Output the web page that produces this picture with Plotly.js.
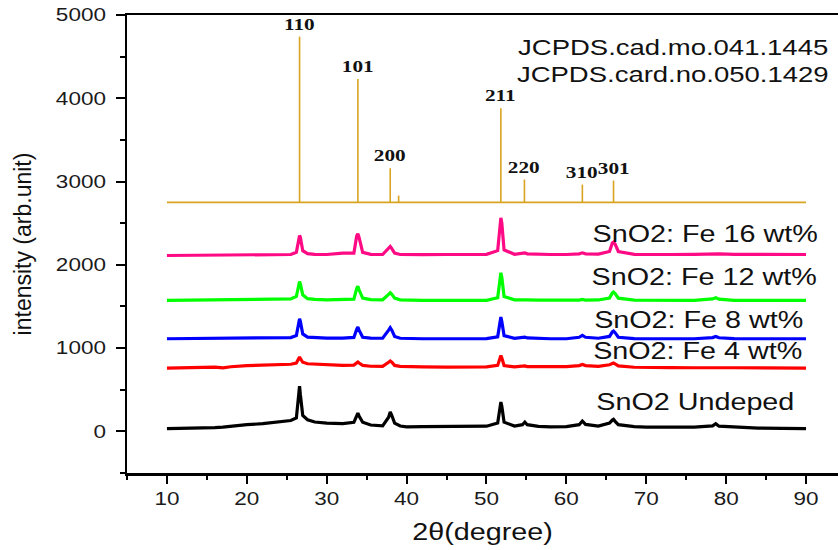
<!DOCTYPE html>
<html>
<head>
<meta charset="utf-8">
<script src="https://cdn.plot.ly/plotly-3.0.1.min.js"></script>
<style>
  html, body { margin: 0; padding: 0; background: #fff; }
  #chart { width: 838px; height: 550px; }
  /* wide lettering for horizontal texts */
  #chart .annotation-text, #chart .xtitle {
    transform-box: fill-box; transform-origin: center; scale: 1.25 1;
  }
  #chart g.xtick { transform-box: fill-box; transform-origin: center; scale: 1.25 1; }
  #chart g.ytick { transform-box: fill-box; transform-origin: right center; scale: 1.25 1; }
</style>
</head>
<body>
<div id="chart"></div>
<script>
// 2θ sampling grid shared by all measured patterns
const twoTheta = [10, 12, 14, 16, 17, 18, 20, 22, 24, 25.5,
  26.2, 26.5, 26.6, 26.7, 27.0, 27.6, 28.5, 30, 32, 33.4,
  33.75, 33.9, 34.05, 34.5, 35.5, 37.0, 37.75, 37.95, 38.15, 38.5,
  39.2, 40, 42, 45, 48, 50, 51.4, 51.7, 51.8, 51.92,
  52.2, 53.5, 54.5, 54.8, 55.1, 56.5, 58, 60, 61.6, 62.0,
  62.4, 64.0, 65.4, 65.75, 65.9, 66.1, 66.5, 68.5, 70, 73,
  76, 78.3, 78.7, 79.1, 81, 84, 87, 90];

// Intensities (stacked, arb. units)
const undoped = [32, 34, 38, 44, 50, 62, 80, 92, 112, 130,
  160, 430, 544, 440, 190, 140, 112, 100, 94, 108,
  190, 220, 185, 110, 76, 66, 170, 232, 190, 100,
  64, 54, 58, 60, 58, 62, 100, 320, 352, 300,
  110, 64, 80, 112, 80, 60, 54, 58, 80, 124,
  84, 64, 100, 135, 144, 120, 80, 58, 52, 52,
  50, 66, 92, 62, 52, 40, 36, 34];

const fe4 = [760, 764, 768, 772, 762, 776, 790, 796, 802, 806,
  820, 880, 892, 875, 830, 812, 806, 796, 792, 796,
  824, 832, 820, 792, 782, 780, 830, 844, 830, 792,
  780, 776, 774, 772, 772, 774, 792, 900, 912, 880,
  790, 774, 780, 786, 778, 776, 776, 778, 790, 804,
  790, 780, 800, 816, 820, 810, 786, 770, 766, 766,
  764, 766, 772, 764, 764, 762, 762, 760];

const fe8 = [1112, 1114, 1116, 1116, 1118, 1118, 1120, 1122, 1124, 1126,
  1150, 1330, 1352, 1320, 1170, 1132, 1124, 1120, 1120, 1128,
  1225, 1252, 1215, 1130, 1120, 1118, 1215, 1244, 1215, 1140,
  1118, 1114, 1112, 1112, 1112, 1114, 1135, 1350, 1372, 1320,
  1150, 1118, 1124, 1132, 1122, 1114, 1112, 1112, 1130, 1152,
  1130, 1118, 1140, 1195, 1204, 1185, 1130, 1114, 1112, 1112,
  1112, 1126, 1140, 1124, 1114, 1112, 1112, 1112];

const fe12 = [1572, 1574, 1576, 1576, 1578, 1578, 1580, 1582, 1586, 1590,
  1620, 1780, 1800, 1770, 1640, 1594, 1584, 1580, 1580, 1588,
  1715, 1744, 1700, 1600, 1582, 1580, 1645, 1664, 1645, 1600,
  1580, 1576, 1574, 1572, 1572, 1574, 1605, 1880, 1904, 1850,
  1620, 1580, 1582, 1588, 1580, 1576, 1574, 1572, 1576, 1584,
  1576, 1578, 1600, 1662, 1672, 1655, 1600, 1576, 1574, 1572,
  1574, 1590, 1604, 1588, 1574, 1572, 1572, 1572];

const fe16 = [2112, 2114, 2114, 2116, 2116, 2116, 2118, 2120, 2122, 2124,
  2150, 2335, 2352, 2330, 2170, 2134, 2126, 2124, 2140, 2140,
  2345, 2372, 2330, 2150, 2126, 2124, 2200, 2220, 2195, 2140,
  2124, 2122, 2122, 2124, 2124, 2126, 2170, 2540, 2564, 2500,
  2180, 2126, 2134, 2144, 2132, 2124, 2124, 2124, 2132, 2144,
  2132, 2128, 2160, 2262, 2272, 2250, 2160, 2126, 2124, 2124,
  2126, 2134, 2140, 2132, 2126, 2124, 2124, 2124];

const sampleLabels = ['SnO2 Undeped', 'SnO2: Fe 4 wt%', 'SnO2: Fe 8 wt%', 'SnO2: Fe 12 wt%', 'SnO2: Fe 16 wt%'];

// Reference card (stick pattern)
const cardBaseline = 2750;
const cardRange = [10, 90];
const stickPos = [26.6, 33.9, 37.95, 39.0, 51.8, 54.75, 62.0, 65.9];
const stickTop = [4740, 4232, 3160, 2832, 3880, 3024, 2964, 3012];
const stickHkl = ['110', '101', '200', '', '211', '220', '310', '301'];
const cardNames = ['JCPDS.cad.mo.041.1445', 'JCPDS.card.no.050.1429'];

const series = [undoped, fe4, fe8, fe12, fe16];
const colors = ['#000000', '#ff0000', '#0000ff', '#00ff00', '#ff0a85'];

const traces = [];

// stick pattern: baseline plus one vertical line per reflection
const sx = [cardRange[0], cardRange[1], null];
const sy = [cardBaseline, cardBaseline, null];
stickPos.forEach((p, i) => { sx.push(p, p, null); sy.push(cardBaseline, stickTop[i], null); });
traces.push({
  x: sx, y: sy, type: 'scatter', mode: 'lines',
  line: { color: '#d9a421', width: 1.6 }, hoverinfo: 'skip', connectgaps: false
});

series.forEach((ys, i) => {
  traces.push({
    x: twoTheta, y: ys, type: 'scatter', mode: 'lines', name: sampleLabels[i],
    line: { color: colors[i], width: 3.2 }
  });
});

const sansFont = 'Liberation Sans, Arial, Helvetica, sans-serif';
const serifFont = 'Liberation Serif, Times New Roman, serif';

const annotations = [];
// hkl labels above the sticks
stickPos.forEach((p, i) => {
  if (!stickHkl[i]) return;
  annotations.push({
    x: p, y: stickTop[i], xref: 'x', yref: 'y', text: stickHkl[i], showarrow: false,
    xanchor: 'center', yanchor: 'bottom', yshift: 1,
    font: { family: serifFont, size: 17, color: '#111', weight: 'bold' }
  });
});
// card names
const cardY = [4612, 4284];
cardNames.forEach((t, i) => {
  annotations.push({
    x: 73.3, y: cardY[i], xref: 'x', yref: 'y', text: t, showarrow: false,
    xanchor: 'center', yanchor: 'middle',
    font: { family: sansFont, size: 22, color: '#111' }
  });
});
// sample labels
const labelX = [76.1, 76.4, 76.5, 77.2, 77.3];
const labelY = [348, 960, 1332, 1848, 2376];
sampleLabels.forEach((t, i) => {
  annotations.push({
    x: labelX[i], y: labelY[i], xref: 'x', yref: 'y', text: t, showarrow: false,
    xanchor: 'center', yanchor: 'middle',
    font: { family: sansFont, size: 23, color: '#111' }
  });
});

const layout = {
  width: 838, height: 550,
  margin: { l: 127, r: 0, t: 15, b: 77 },
  paper_bgcolor: '#ffffff', plot_bgcolor: '#ffffff',
  showlegend: false,
  font: { family: sansFont, color: '#1a1a1a' },
  xaxis: {
    range: [5, 94.0], tick0: 10, dtick: 10, tickmode: 'linear',
    ticks: 'outside', ticklen: 8, tickwidth: 2, tickcolor: '#000',
    minor: { tick0: 5, dtick: 5, ticks: 'outside', ticklen: 4, tickwidth: 2, tickcolor: '#000', showgrid: false },
    showline: true, linewidth: 2.5, linecolor: '#000', mirror: true,
    showgrid: false, zeroline: false,
    tickfont: { family: sansFont, size: 18, color: '#1a1a1a' },
    title: { text: '2θ(degree)', font: { family: sansFont, size: 23, color: '#111' }, standoff: 16 }
  },
  yaxis: {
    range: [-500, 5000], tick0: 0, dtick: 1000, tickmode: 'linear',
    ticks: 'outside', ticklen: 9, tickwidth: 2, tickcolor: '#000', ticklabelstandoff: 6,
    minor: { tick0: 0, dtick: 500, ticks: 'outside', ticklen: 5, tickwidth: 2, tickcolor: '#000', showgrid: false },
    showline: true, linewidth: 2.5, linecolor: '#000', mirror: false,
    showgrid: false, zeroline: false,
    tickfont: { family: sansFont, size: 18, color: '#1a1a1a' },
    title: { text: 'intensity (arb.unit)', font: { family: sansFont, size: 23, color: '#111' }, standoff: 28 }
  },
  annotations: annotations
};

Plotly.newPlot('chart', traces, layout, { displayModeBar: false, staticPlot: true });
</script>
</body>
</html>
